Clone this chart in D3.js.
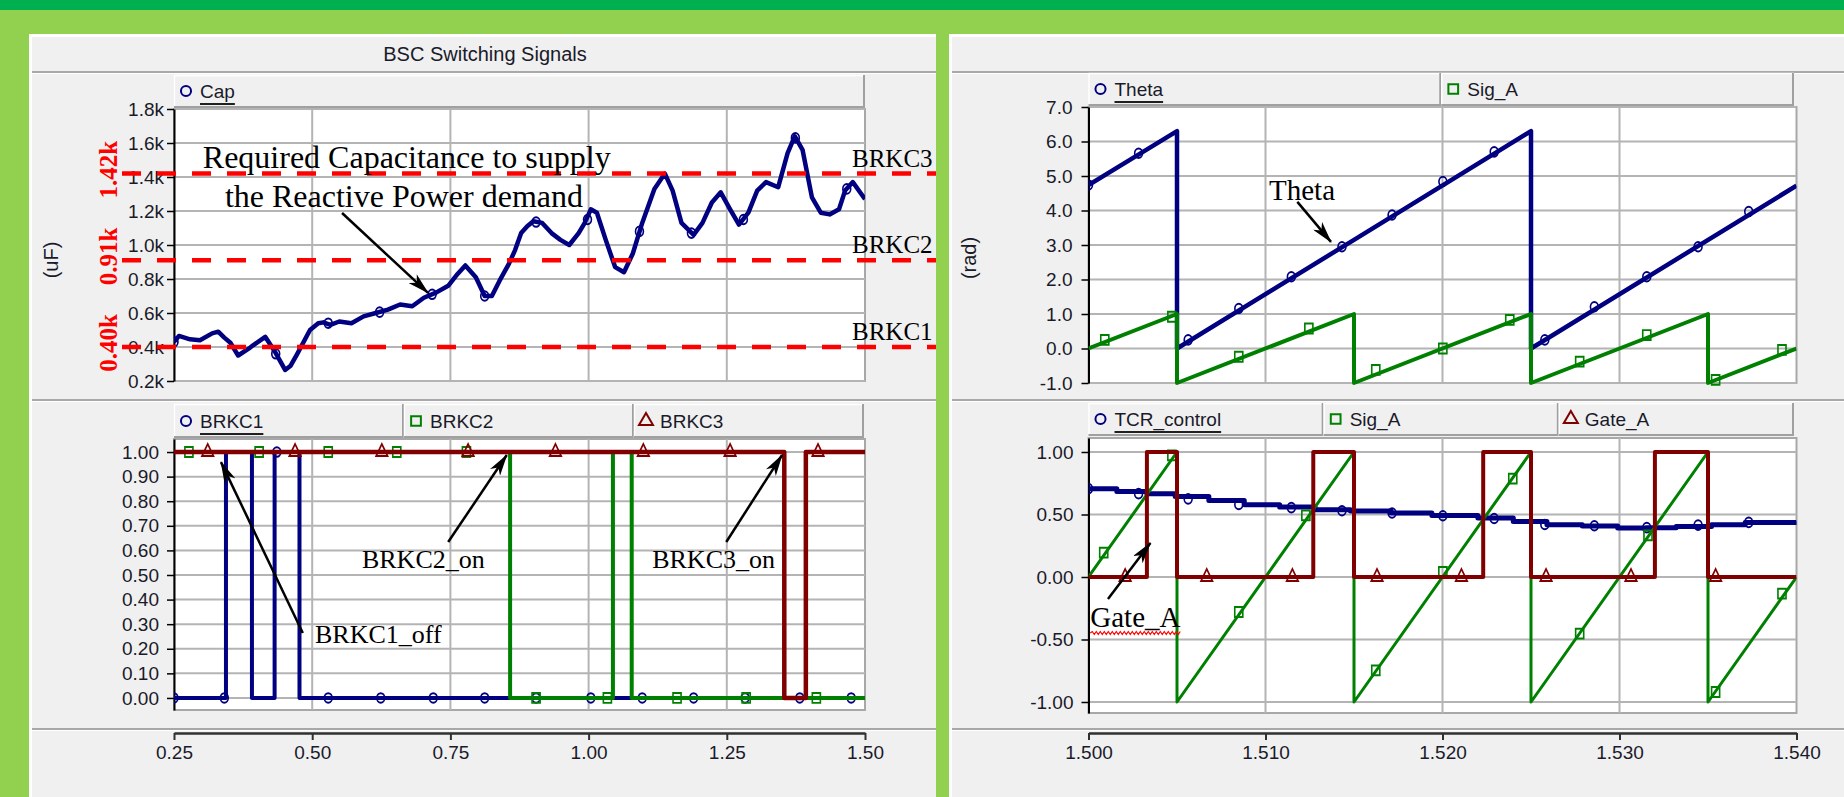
<!DOCTYPE html>
<html><head><meta charset="utf-8">
<script src="https://cdn.jsdelivr.net/npm/d3@7"></script>
<style>body{margin:0;background:#92d050;}svg{display:block}</style>
</head><body>
<svg id="c" width="1844" height="797"></svg>
<script>
// ---------------- DATA ----------------
// Left top: Cap (uF) vs time (s)
const capT=[0.250,0.259,0.279,0.297,0.319,0.330,0.341,0.352,0.366,0.385,0.393,0.415,0.433,0.451,0.461,0.473,0.496,0.511,0.520,0.533,0.549,0.571,0.593,0.615,0.637,0.659,0.681,0.702,0.724,0.746,0.763,0.777,0.796,0.812,0.825,0.839,0.856,0.867,0.878,0.889,0.900,0.916,0.933,0.949,0.965,0.982,0.993,1.004,1.015,1.031,1.048,1.064,1.080,1.097,1.119,1.138,1.152,1.168,1.190,1.206,1.223,1.239,1.256,1.272,1.289,1.305,1.321,1.343,1.360,1.373,1.387,1.404,1.420,1.436,1.453,1.464,1.478,1.491,1.500];
const capV=[430,465,445,440,480,490,455,425,350,390,410,460,370,265,290,360,500,540,545,530,550,540,580,600,620,650,640,690,720,760,830,880,810,700,700,790,890,970,1070,1110,1140,1130,1070,1030,1000,1070,1130,1210,1190,1030,870,840,950,1130,1330,1420,1320,1130,1060,1130,1250,1310,1210,1120,1190,1320,1370,1340,1540,1640,1560,1280,1190,1180,1210,1320,1370,1310,1270];
const capMarkT=[0.250,0.434,0.529,0.622,0.717,0.812,0.905,0.998,1.092,1.186,1.280,1.374,1.467];
const capMarkV=[430,360,540,605,710,700,1135,1150,1080,1070,1150,1630,1330];
const capTicks=[200,400,600,800,1000,1200,1400,1600,1800];
const thresholdV=[1420,910,400];
const thresholdName=["BRKC3","BRKC2","BRKC1"];
const thresholdLabel=["1.42k","0.91k","0.40k"];

// Left bottom: breaker signals (step after)
const brkc1T=[0.25,0.344,0.391,0.432,0.477,1.50], brkc1V=[0,1,0,1,0,0];
const brkc2T=[0.25,0.858,1.044,1.078,1.50],       brkc2V=[1,0,1,0,0];
const brkc3T=[0.25,1.354,1.393,1.50],             brkc3V=[1,0,1,1];
const brkc1MarkT=[0.250,0.341,0.436,0.529,0.624,0.719,0.812,0.905,1.004,1.097,1.190,1.283,1.382,1.475];
const brkc1MarkV=[0,0,1,0,0,0,0,0,0,0,0,0,0,0];
const brkc2MarkT=[0.277,0.404,0.529,0.653,0.779,0.905,1.034,1.160,1.285,1.412];
const brkc2MarkV=[1,1,1,1,1,0,0,0,0,0];
const brkc3MarkT=[0.311,0.469,0.626,0.782,0.940,1.099,1.256,1.415];
const brkc3MarkV=[1,1,1,1,1,1,1,1];
const brkTicks=[0,0.1,0.2,0.3,0.4,0.5,0.6,0.7,0.8,0.9,1.0];
const xTicksL=[0.25,0.50,0.75,1.00,1.25,1.50];

// Right top: Theta (rad) and Sig_A
const thetaT=[1.5000,1.5050,1.5050,1.5150,1.5250,1.5250,1.5400];
const thetaV=[4.74,6.30,0.00,3.15,6.30,0.00,4.72];
const thetaMarkT=[1.5000,1.50283,1.50563,1.50849,1.51146,1.51432,1.51715,1.52002,1.52292,1.52578,1.52858,1.53154,1.53444,1.53730];
const thetaMarkV=[4.74,5.66,0.25,1.16,2.08,2.95,3.87,4.84,5.70,0.25,1.21,2.08,2.95,3.97];
const sigAT=[1.5000,1.5050,1.5050,1.5150,1.5150,1.5250,1.5250,1.5350,1.5350,1.5400];
const sigAV=[0.00,1.00,-1.00,1.00,-1.00,1.00,-1.00,1.00,-1.00,0.00];
const sigATopMarkT=[1.50092,1.50471,1.50849,1.51245,1.51623,1.52002,1.52380,1.52775,1.53154,1.53543,1.53918];
const sigATopMarkV=[0.25,0.92,-0.24,0.58,-0.62,0.00,0.83,-0.38,0.39,-0.91,-0.04];
const radTicks=[-1,0,1,2,3,4,5,6,7];
const xTicksR=[1.50,1.51,1.52,1.53,1.54];

// Right bottom: TCR_control, Sig_A, Gate_A
const tcrT=[1.5000,1.5016,1.5033,1.5049,1.5068,1.5088,1.5108,1.5128,1.5148,1.5171,1.5194,1.5220,1.5240,1.5259,1.5279,1.5299,1.5315,1.5332,1.5352,1.5371,1.5400];
const tcrV=[0.707,0.685,0.667,0.645,0.613,0.579,0.560,0.539,0.528,0.512,0.493,0.472,0.445,0.419,0.408,0.392,0.395,0.405,0.419,0.437,0.448];
const tcrMarkT=[1.5000,1.50283,1.50563,1.50849,1.51146,1.51432,1.51715,1.52002,1.52292,1.52578,1.52858,1.53154,1.53444,1.53730];
const tcrMarkV=[0.707,0.667,0.625,0.580,0.555,0.530,0.512,0.490,0.468,0.420,0.410,0.395,0.415,0.437];
const sigABotMarkT=[1.50086,1.50471,1.50849,1.51228,1.51623,1.52002,1.52397,1.52775,1.53161,1.53543,1.53918];
const sigABotMarkV=[0.195,0.973,-0.28,0.493,-0.747,0.04,0.787,-0.453,0.333,-0.92,-0.133];
const gateT=[1.5000,1.5033,1.5050,1.5127,1.5150,1.5223,1.5250,1.5320,1.5350,1.5400];
const gateV=[0,1,0,1,0,1,0,1,0,0];
const gateMarkT=[1.50207,1.50668,1.51152,1.51630,1.52107,1.52585,1.53065,1.53543];
const gateMarkV=[0,0,0,0,0,0,0,0];
const ctlTicks=[-1,-0.5,0,0.5,1];

// ---------------- DRAW ----------------
const W=1844,H=797;
const NAVY="#000080",GREEN="#008000",MAROON="#800000",RED="#ff0000";
const SANS="'Liberation Sans',Arial,sans-serif", SERIF="'Liberation Serif','Times New Roman',serif";
const fmt=p=>{const f=d3.format(p);return d=>f(d).replace("\u2212","-");};
const svg=d3.select("#c");
const defs=svg.append("defs");
defs.append("marker").attr("id","arr").attr("markerUnits","userSpaceOnUse")
  .attr("markerWidth",22).attr("markerHeight",12).attr("refX",21).attr("refY",6).attr("orient","auto")
  .append("path").attr("d","M0,0 L22,6 L0,12 L6,6 Z").attr("fill","#000");

svg.append("rect").attr("width",W).attr("height",H).attr("fill","#92d050");
svg.append("rect").attr("width",W).attr("height",10).attr("fill","#00b050");

function panel(x0,x1){
  svg.append("rect").attr("x",x0).attr("y",34).attr("width",x1-x0).attr("height",H-34).attr("fill","#f0f0f0");
  svg.append("rect").attr("x",x0).attr("y",34).attr("width",x1-x0).attr("height",3).attr("fill","#fff");
  svg.append("rect").attr("x",x0).attr("y",34).attr("width",3).attr("height",H-34).attr("fill","#fff");
  [72,400,729].forEach(yy=>{
    svg.append("line").attr("x1",x0+3).attr("x2",x1).attr("y1",yy).attr("y2",yy).attr("stroke","#a8a8a8").attr("stroke-width",2);
    svg.append("line").attr("x1",x0+3).attr("x2",x1).attr("y1",yy+1.5).attr("y2",yy+1.5).attr("stroke","#fff").attr("stroke-width",1);
  });
}
panel(29,936); panel(949,1844);

svg.append("text").attr("x",485).attr("y",61).attr("text-anchor","middle")
  .attr("font-family",SANS).attr("font-size",20).attr("fill","#1a1a2a").text("BSC Switching Signals");

function sym(shape,size){
  const t=shape==="circle"?d3.symbolCircle:shape==="square"?d3.symbolSquare:d3.symbolTriangle;
  return d3.symbol().type(t).size(size)();
}

function legend(x0,x1,y0,y1,items){
  const w=(x1-x0)/items.length;
  items.forEach((it,i)=>{
    const cx=x0+i*w;
    svg.append("rect").attr("x",cx).attr("y",y0).attr("width",w).attr("height",y1-y0).attr("fill","#f0f0f0");
    svg.append("line").attr("x1",cx).attr("x2",cx+w).attr("y1",y0+0.5).attr("y2",y0+0.5).attr("stroke","#fff").attr("stroke-width",1.5);
    svg.append("line").attr("x1",cx+0.5).attr("x2",cx+0.5).attr("y1",y0).attr("y2",y1).attr("stroke","#fff").attr("stroke-width",1.5);
    svg.append("line").attr("x1",cx+w-1).attr("x2",cx+w-1).attr("y1",y0).attr("y2",y1).attr("stroke","#a0a0a0").attr("stroke-width",2);
    svg.append("line").attr("x1",cx).attr("x2",cx+w).attr("y1",y1-1).attr("y2",y1-1).attr("stroke","#a0a0a0").attr("stroke-width",2);
    svg.append("path").attr("d",sym(it.shape,it.shape==="triangle"?85:(it.shape==="square"?95:80)))
      .attr("transform",`translate(${cx+12},${y1-17})`).attr("fill","none").attr("stroke",it.color).attr("stroke-width",2);
    const tx=svg.append("text").attr("x",cx+26).attr("y",y1-10).attr("font-family",SANS).attr("font-size",19)
      .attr("fill","#1a1a2a").text(it.name);
    if(i===0){
      const len=tx.node().getComputedTextLength();
      svg.append("line").attr("x1",cx+26).attr("x2",cx+26+len).attr("y1",y1-4).attr("y2",y1-4).attr("stroke","#202020").attr("stroke-width",2);
    }
  });
}

let clipId=0;
function makePlot(c){
  const x=d3.scaleLinear().domain(c.xDom).range([c.l,c.r]);
  const y=d3.scaleLinear().domain(c.yDom).range([c.b,c.t]);
  svg.append("rect").attr("x",c.l).attr("y",c.t).attr("width",c.r-c.l).attr("height",c.b-c.t)
    .attr("fill","#fff").attr("stroke","#a8a8a8").attr("stroke-width",2);
  const g=svg.append("g");
  g.selectAll("line.h").data(c.yTicks).join("line").attr("class","h")
    .attr("x1",c.l).attr("x2",c.r).attr("y1",d=>y(d)).attr("y2",d=>y(d)).attr("stroke","#b4b4b4").attr("stroke-width",2);
  g.selectAll("line.v").data(c.xTicks.slice(1,-1)).join("line").attr("class","v")
    .attr("x1",d=>x(d)).attr("x2",d=>x(d)).attr("y1",c.t).attr("y2",c.b).attr("stroke","#b4b4b4").attr("stroke-width",2);
  const ax=svg.append("g").attr("transform",`translate(${c.l},0)`)
    .call(d3.axisLeft(y).tickValues(c.yTicks).tickFormat(c.yFmt).tickSize(7).tickSizeOuter(0).tickPadding(c.pad));
  ax.select(".domain").attr("stroke","#000").attr("stroke-width",2);
  ax.selectAll(".tick line").attr("stroke","#000").attr("stroke-width",1.5);
  ax.selectAll(".tick text").attr("font-family",SANS).attr("font-size",19).attr("fill","#1a1a2a");
  const id="clip"+(clipId++);
  defs.append("clipPath").attr("id",id).append("rect").attr("x",c.l).attr("y",c.t-4).attr("width",c.r-c.l).attr("height",c.b-c.t+8);
  const layer=svg.append("g").attr("clip-path",`url(#${id})`);
  return {x,y,layer,c};
}

function drawLine(P,T,V,color,w,curve){
  const data=T.map((t,i)=>[t,V[i]]);
  P.layer.append("path").datum(data)
    .attr("d",d3.line().x(d=>P.x(d[0])).y(d=>P.y(d[1])).curve(curve||d3.curveLinear))
    .attr("fill","none").attr("stroke",color).attr("stroke-width",w).attr("stroke-linejoin","round");
}
function drawMarks(P,T,V,color,shape){
  const data=T.map((t,i)=>[t,V[i]]);
  const sz=shape==="triangle"?70:(shape==="square"?80:60);
  P.layer.selectAll(null).data(data).join("path").attr("d",sym(shape,sz))
    .attr("transform",d=>`translate(${P.x(d[0])},${P.y(d[1])}) scale(0.9,1.1)`)
    .attr("fill","none").attr("stroke",color).attr("stroke-width",1.8);
}
function xAxis(P,ticks,f){
  const ax=svg.append("g").attr("transform","translate(0,733)")
    .call(d3.axisBottom(P.x).tickValues(ticks).tickFormat(f).tickSize(7).tickSizeOuter(0).tickPadding(6));
  ax.select(".domain").attr("stroke","#303030").attr("stroke-width",2.5);
  ax.selectAll(".tick line").attr("stroke","#303030").attr("stroke-width",2);
  ax.selectAll(".tick text").attr("font-family",SANS).attr("font-size",19).attr("fill","#1a1a2a");
}
function arrow(P,t0,v0,t1,v1){
  svg.append("line").attr("x1",P.x(t0)).attr("y1",P.y(v0)).attr("x2",P.x(t1)).attr("y2",P.y(v1))
    .attr("stroke","#000").attr("stroke-width",2.5).attr("marker-end","url(#arr)");
}
function note(P,t,v,txt,size,anchor){
  return svg.append("text").attr("x",P.x(t)).attr("y",P.y(v)).attr("text-anchor",anchor||"start")
    .attr("font-family",SERIF).attr("font-size",size).attr("fill","#000").text(txt);
}
function yLabel(x,y,txt){
  svg.append("text").attr("transform",`translate(${x},${y}) rotate(-90)`).attr("text-anchor","middle")
    .attr("font-family",SANS).attr("font-size",20).attr("fill","#1a1a2a").text(txt);
}

// ---- Left top: Cap
legend(174,865,75,108,[{name:"Cap",color:NAVY,shape:"circle"}]);
const P1=makePlot({l:174,r:865,t:109,b:381,xDom:[0.25,1.5],yDom:[200,1800],yTicks:capTicks,
  xTicks:xTicksL,yFmt:d=>(d/1000).toFixed(1)+"k",pad:3});
drawLine(P1,capT,capV,NAVY,4.5);
drawMarks(P1,capMarkT,capMarkV,NAVY,"circle");
yLabel(58,260,"(uF)");
thresholdV.forEach((v,i)=>{
  svg.append("line").attr("x1",122).attr("x2",936).attr("y1",P1.y(v)).attr("y2",P1.y(v))
    .attr("stroke",RED).attr("stroke-width",4.5).attr("stroke-dasharray","19,16");
  svg.append("text").attr("transform",`translate(117,${P1.y(v)-4}) rotate(-90)`).attr("text-anchor","middle")
    .attr("font-family",SERIF).attr("font-weight","bold").attr("font-size",25).attr("fill",RED).text(thresholdLabel[i]);
  svg.append("text").attr("x",852).attr("y",P1.y(v)-7).attr("font-family",SERIF).attr("font-size",25)
    .attr("fill","#000").text(thresholdName[i]);
});
note(P1,0.671,1453,"Required Capacitance to supply",32,"middle");
note(P1,0.666,1224,"the Reactive Power demand",32,"middle");
arrow(P1,0.554,1188,0.7095,718);

// ---- Left bottom: breakers
legend(174,864,404,438,[{name:"BRKC1",color:NAVY,shape:"circle"},{name:"BRKC2",color:GREEN,shape:"square"},{name:"BRKC3",color:MAROON,shape:"triangle"}]);
const P2=makePlot({l:174,r:865,t:439,b:710,xDom:[0.25,1.5],yDom:[-0.049,1.053],yTicks:brkTicks,
  xTicks:xTicksL,yFmt:fmt(".2f"),pad:8});
drawLine(P2,brkc1T,brkc1V,NAVY,4,d3.curveStepAfter);
drawMarks(P2,brkc1MarkT,brkc1MarkV,NAVY,"circle");
drawLine(P2,brkc2T,brkc2V,GREEN,4,d3.curveStepAfter);
drawMarks(P2,brkc2MarkT,brkc2MarkV,GREEN,"square");
drawLine(P2,brkc3T,brkc3V,MAROON,4.5,d3.curveStepAfter);
drawMarks(P2,brkc3MarkT,brkc3MarkV,MAROON,"triangle");
xAxis(P2,xTicksL,fmt(".2f"));
note(P2,0.505,0.224,"BRKC1_off",26); arrow(P2,0.483,0.264,0.335,0.959);
note(P2,0.590,0.528,"BRKC2_on",26);  arrow(P2,0.746,0.634,0.852,0.988);
note(P2,1.115,0.528,"BRKC3_on",26);  arrow(P2,1.249,0.634,1.350,0.988);

// ---- Right top: Theta, Sig_A
legend(1088.5,1794,73,106,[{name:"Theta",color:NAVY,shape:"circle"},{name:"Sig_A",color:GREEN,shape:"square"}]);
const P3=makePlot({l:1088.5,r:1796.5,t:107,b:383,xDom:[1.5,1.54],yDom:[-1,7],yTicks:radTicks,
  xTicks:xTicksR,yFmt:fmt(".1f"),pad:9});
drawLine(P3,thetaT,thetaV,NAVY,4.5);
drawMarks(P3,thetaMarkT,thetaMarkV,NAVY,"circle");
drawLine(P3,sigAT,sigAV,GREEN,4);
drawMarks(P3,sigATopMarkT,sigATopMarkV,GREEN,"square");
yLabel(976,258,"(rad)");
note(P3,1.5102,4.30,"Theta",29); arrow(P3,1.5118,4.25,1.5137,3.09);

// ---- Right bottom: TCR_control, Sig_A, Gate_A
legend(1088.5,1794,403,436,[{name:"TCR_control",color:NAVY,shape:"circle"},{name:"Sig_A",color:GREEN,shape:"square"},{name:"Gate_A",color:MAROON,shape:"triangle"}]);
const P4=makePlot({l:1088.5,r:1796.5,t:438,b:713,xDom:[1.5,1.54],yDom:[-1.088,1.112],yTicks:ctlTicks,
  xTicks:xTicksR,yFmt:fmt(".2f"),pad:8});
drawLine(P4,tcrT,tcrV,NAVY,5,d3.curveStepAfter);
drawMarks(P4,tcrMarkT,tcrMarkV,NAVY,"circle");
drawLine(P4,sigAT,sigAV,GREEN,3);
drawMarks(P4,sigABotMarkT,sigABotMarkV,GREEN,"square");
drawLine(P4,gateT,gateV,MAROON,4,d3.curveStepAfter);
drawMarks(P4,gateMarkT,gateMarkV,MAROON,"triangle");
xAxis(P4,xTicksR,fmt(".3f"));
const gt=note(P4,1.5001,-0.40,"Gate_A",29);
arrow(P4,1.5011,-0.176,1.5035,0.272);
{
  const x0=P4.x(1.5001), len=gt.node().getComputedTextLength(), yy=P4.y(-0.40)+6;
  let d=`M${x0},${yy}`; let up=true;
  for(let xx=x0+2;xx<=x0+len;xx+=2){ d+=` L${xx},${yy+(up?-1.5:1.5)}`; up=!up; }
  svg.append("path").attr("d",d).attr("fill","none").attr("stroke",RED).attr("stroke-width",1.2);
}
</script>
</body></html>
